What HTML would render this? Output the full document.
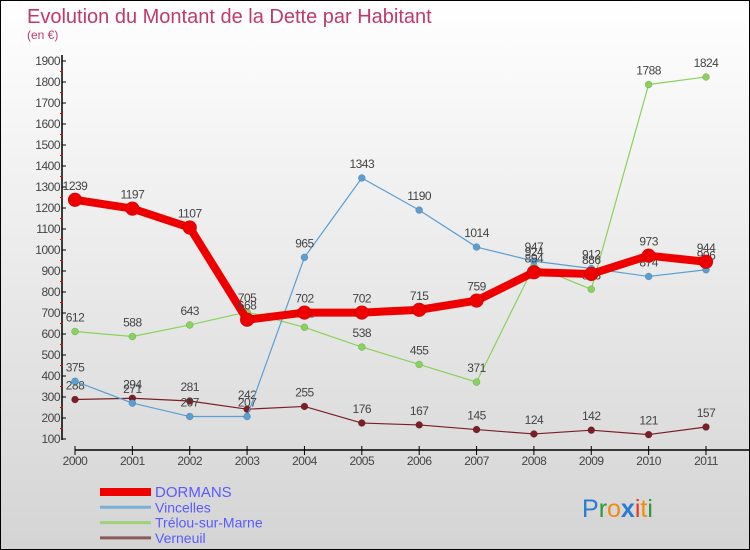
<!DOCTYPE html>
<html><head><meta charset="utf-8"><style>
body{margin:0;width:750px;height:550px;overflow:hidden}
svg{display:block;font-family:"Liberation Sans","DejaVu Sans",sans-serif}
</style></head><body>
<svg id="c" width="750" height="550" xmlns="http://www.w3.org/2000/svg">
<defs><linearGradient id="bg" x1="0" y1="0" x2="0" y2="1"><stop offset="0" stop-color="#ffffff"/><stop offset="1" stop-color="#d4d4d4"/></linearGradient></defs>
<rect x="0.5" y="0.5" width="749" height="549" fill="url(#bg)" stroke="#000"/>
<text x="27" y="23" font-size="20" fill="#c0396a">Evolution du Montant de la Dette par Habitant</text>
<text x="27" y="39" font-size="12" fill="#c0396a">(en €)</text>
<g id="axes"></g><g id="series"></g><g id="legend"></g>
<text x="582" y="517" font-size="25"><tspan fill="#2a7bd4">P</tspan><tspan fill="#2a9a3a">r</tspan><tspan fill="#f08a10">o</tspan><tspan fill="#2a7bd4" font-weight="bold">x</tspan><tspan fill="#e83a10">i</tspan><tspan fill="#f08a10">t</tspan><tspan fill="#2a9a3a">i</tspan></text>
</svg>
<script>
const years=[2000,2001,2002,2003,2004,2005,2006,2007,2008,2009,2010,2011];
const yTicks=[100,200,300,400,500,600,700,800,900,1000,1100,1200,1300,1400,1500,1600,1700,1800,1900];
const dormans=[1239,1197,1107,668,702,702,715,759,894,886,973,944];
const vincelles=[375,271,207,207,965,1343,1190,1014,947,912,874,906];
const trelou=[612,588,643,705,632,538,455,371,924,813,1788,1824];
const verneuil=[288,294,281,242,255,176,167,145,124,142,121,157];
const NS="http://www.w3.org/2000/svg";
const xS=i=>75+i*(706-75)/11;
const yS=v=>439-(v-100)*(439-61)/1800;
function mk(t,a,p){const e=document.createElementNS(NS,t);for(const k in a)e.setAttribute(k,a[k]);p.appendChild(e);return e;}
const ax=document.getElementById('axes');
const yl=mk('line',{x1:62,y1:55,x2:62,y2:440,stroke:'#000','stroke-width':1.5},ax);


yTicks.forEach((v,k)=>{const y=yS(v);
mk('line',{x1:62,y1:y,x2:66,y2:y,stroke:'#000'},ax);
if(k>0)mk('line',{x1:60,y1:y+10.5,x2:63,y2:y+10.5,stroke:'#e00'},ax);
const t=mk('text',{x:60,y:y+4,'font-size':12,fill:'#444','text-anchor':'end','letter-spacing':'-0.5'},ax);t.textContent=v;

});
const xl=mk('line',{x1:75,y1:450,x2:750,y2:450,stroke:'#000','stroke-width':1.5},ax);


years.forEach((yr,i)=>{const x=xS(i);
mk('line',{x1:x,y1:446,x2:x,y2:455,stroke:'#000'},ax);
const t=mk('text',{x:x,y:465,'font-size':12,fill:'#444','text-anchor':'middle','letter-spacing':'-0.5'},ax);t.textContent=yr;

});
const sg=document.getElementById('series');
function series(data,color,w,r,name){
const g=mk('g',{},sg);


mk('polyline',{points:data.map((v,i)=>xS(i)+','+yS(v)).join(' '),fill:'none',stroke:color,'stroke-width':w,'stroke-linejoin':'round'},g);
data.forEach((v,i)=>{const c=mk('circle',{cx:xS(i),cy:yS(v),r:r,fill:color,stroke:'rgba(0,0,0,0.25)','stroke-width':0.5},g);


const t=mk('text',{x:xS(i),y:yS(v)-10,'font-size':12,fill:'#444','text-anchor':'middle','letter-spacing':'-0.5'},g);t.textContent=v;

});}
series(verneuil,'#7a1f25',1.2,3.5,'verneuil-series');
series(trelou,'#88d35a',1.2,3.5,'trelou-series');
series(vincelles,'#5a9fd4',1.2,3.5,'vincelles-series');
series(dormans,'#ee0000',8,7,'dormans-series');
const lg=document.getElementById('legend');
const items=[['DORMANS','#ee0000',8,15],['Vincelles','#7aafd8',3,14],['Trélou-sur-Marne','#9ed27a',3,14],['Verneuil','#8a5a5a',3,14]];
items.forEach((it,i)=>{const y=492+i*15.3;
const g=mk('g',{},lg);


mk('line',{x1:100,y1:y,x2:151,y2:y,stroke:it[1],'stroke-width':it[2]},g);
const t=mk('text',{x:155,y:y+5,'font-size':it[3],fill:'#5a5aff'},g);t.textContent=it[0];});
</script>
</body></html>
